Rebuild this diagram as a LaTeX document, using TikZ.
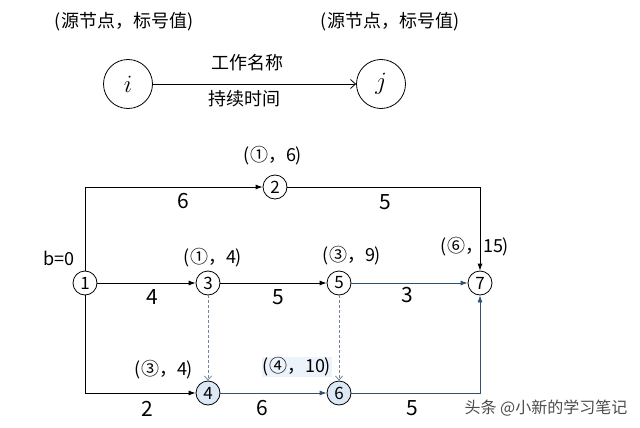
\documentclass[tikz,border=0pt]{standalone}
\usepackage{fontspec}
\setmainfont{Noto Sans CJK SC}
\usetikzlibrary{arrows.meta}
\definecolor{hl}{HTML}{34506E}
\definecolor{hlfill}{HTML}{DCE8F4}
\begin{document}
\begin{tikzpicture}[x=1pt,y=-1pt,
  nd/.style={circle,draw,line width=0.8pt,minimum size=24pt,inner sep=0pt,font=\fontsize{17}{17}\selectfont},
  big/.style={circle,draw,line width=0.8pt,minimum size=49pt,inner sep=0pt,font=\fontsize{24}{24}\selectfont},
  lbl/.style={font=\fontsize{18}{18}\selectfont,inner sep=1pt},
  num/.style={font=\fontsize{21}{21}\selectfont,inner sep=1pt},
  arr/.style={line width=0.8pt,-{Latex[length=7pt,width=5pt]}},
  tarr/.style={line width=0.8pt,-{Straight Barb[length=5pt,width=9pt]}},
  darr/.style={dashed,dash pattern=on 3pt off 2pt,line width=0.8pt,draw=hl!70,-{Straight Barb[length=4pt,width=7pt]}}]
\useasboundingbox (0,0) rectangle (640,428);
% legend
\node[lbl] (lt1) at (124,22) {(源节点，标号值)};
\node[lbl] (lt2) at (390,22) {(源节点，标号值)};
\node[big] (ni) at (128,84) {$i$};
\node[big] (nj) at (381,84) {$j$};
\draw[tarr] (ni) -- (nj);
\node[lbl] (wn) at (247,63) {工作名称};
\node[lbl] (dt) at (244,99) {持续时间};
% network nodes
\node[nd] (n1) at (85,283) {1};
\node[nd] (n2) at (275,187) {2};
\node[nd] (n3) at (208,283) {3};
\node[nd] (n5) at (339,283) {5};
\node[nd] (n7) at (480,283) {7};
\node[nd,fill=hlfill] (n4) at (208,393) {4};
\node[nd,fill=hlfill] (n6) at (339,393) {6};
% edges
\draw[arr] (n1.north) |- (n2.west);
\draw[arr] (n2.east) -| (n7.north);
\draw[arr] (n1) -- (n3);
\draw[arr] (n3) -- (n5);
\draw[arr,draw=hl] (n5) -- (n7);
\draw[arr] (n1.south) |- (n4.west);
\draw[arr,draw=hl] (n4) -- (n6);
\draw[arr,draw=hl] (n6.east) -| (n7.south);
\draw[darr] (n3) -- (n4);
\draw[darr] (n5) -- (n6);
% labels
\node[lbl] (l2) at (273,156) {(①，6)};
\node[lbl] (l3) at (213,258) {(①，4)};
\node[lbl] (l5) at (352,256) {(③，9)};
\node[lbl] (l7) at (475,247) {(⑥，15)};
\node[lbl] (l4) at (164,370) {(③，4)};
\node[lbl,fill=hlfill!50] (l6) at (297,367) {(④，10)};
\node[lbl] (b0) at (59,258) {b=0};
\node[num] (w12) at (183,201) {6};
\node[num] (w27) at (385,202) {5};
\node[num] (w13) at (152,297) {4};
\node[num] (w35) at (278,297) {5};
\node[num] (w57) at (407,295) {3};
\node[num] (w14) at (147,409) {2};
\node[num] (w46) at (262,408) {6};
\node[num] (w67) at (412,408) {5};
\node[font=\fontsize{16}{16}\selectfont,text=black!70] (wm) at (546,408) {头条 @小新的学习笔记};
\end{tikzpicture}
\end{document}
